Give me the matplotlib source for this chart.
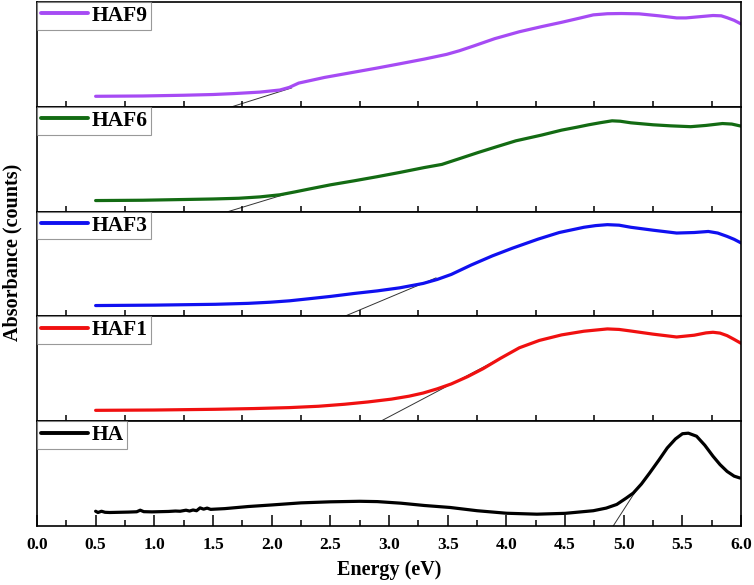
import matplotlib
matplotlib.use("Agg")
import matplotlib.pyplot as plt
from matplotlib.ticker import FixedLocator, NullFormatter

plt.rcParams['font.family'] = ['Liberation Serif', 'DejaVu Serif']
plt.rcParams['font.weight'] = 'bold'

# ---------------- data (normalised absorbance) ----------------
haf9_x = [0.50, 0.90, 1.25, 1.50, 1.68, 1.90, 2.07, 2.15, 2.23, 2.45, 2.70, 2.90, 3.09, 3.30, 3.49,
          3.60, 3.72, 3.90, 4.11, 4.30, 4.47, 4.62, 4.74, 4.86, 4.98, 5.13, 5.30, 5.45, 5.53, 5.65,
          5.76, 5.83, 5.88, 5.94, 6.00]
haf9_y = [0.100, 0.103, 0.110, 0.117, 0.126, 0.140, 0.160, 0.185, 0.226, 0.280, 0.330, 0.370, 0.410,
          0.455, 0.500, 0.535, 0.580, 0.650, 0.716, 0.765, 0.806, 0.845, 0.877, 0.888, 0.890, 0.887,
          0.868, 0.848, 0.848, 0.860, 0.871, 0.868, 0.850, 0.825, 0.790]

haf6_x = [0.50, 0.90, 1.25, 1.50, 1.72, 1.90, 2.07, 2.20, 2.31, 2.50, 2.70, 2.90, 3.09, 3.30, 3.45,
          3.60, 3.76, 3.92, 4.08, 4.30, 4.47, 4.60, 4.70, 4.80, 4.90, 4.97, 5.06, 5.25, 5.40, 5.57,
          5.70, 5.84, 5.92, 6.00]
haf6_y = [0.105, 0.108, 0.115, 0.120, 0.127, 0.140, 0.160, 0.188, 0.213, 0.255, 0.293, 0.333, 0.373,
          0.420, 0.450, 0.505, 0.564, 0.620, 0.675, 0.730, 0.777, 0.805, 0.828, 0.848, 0.866, 0.862,
          0.847, 0.828, 0.818, 0.810, 0.822, 0.840, 0.835, 0.815]

haf3_x = [0.50, 1.00, 1.52, 1.80, 1.99, 2.15, 2.31, 2.50, 2.70, 2.90, 3.09, 3.29, 3.41, 3.53, 3.70,
          3.88, 4.05, 4.27, 4.45, 4.66, 4.76, 4.86, 4.96, 5.06, 5.25, 5.45, 5.60, 5.72, 5.80, 5.88,
          5.94, 6.00]
haf3_y = [0.103, 0.107, 0.115, 0.124, 0.135, 0.148, 0.167, 0.190, 0.218, 0.243, 0.272, 0.314, 0.352,
          0.400, 0.490, 0.577, 0.650, 0.737, 0.800, 0.850, 0.866, 0.875, 0.870, 0.850, 0.822, 0.795,
          0.800, 0.810, 0.795, 0.763, 0.735, 0.700]

haf1_x = [0.50, 1.00, 1.52, 1.85, 2.15, 2.40, 2.62, 2.82, 3.02, 3.17, 3.29, 3.41, 3.53, 3.67, 3.80,
          3.95, 4.11, 4.28, 4.47, 4.66, 4.86, 4.96, 5.06, 5.25, 5.45, 5.60, 5.70, 5.76, 5.82, 5.88,
          5.94, 6.00]
haf1_y = [0.103, 0.106, 0.113, 0.120, 0.129, 0.142, 0.161, 0.183, 0.210, 0.238, 0.268, 0.308, 0.355,
          0.425, 0.500, 0.600, 0.700, 0.770, 0.823, 0.858, 0.880, 0.875, 0.860, 0.830, 0.803, 0.820,
          0.842, 0.848, 0.840, 0.816, 0.780, 0.742]

ha_x = [0.50, 0.52, 0.55, 0.58, 0.62, 0.70, 0.78, 0.85, 0.88, 0.91, 0.98, 1.05, 1.12, 1.18, 1.22,
        1.27, 1.30, 1.33, 1.36, 1.39, 1.42, 1.45, 1.48, 1.60, 1.80, 2.00, 2.25, 2.50, 2.75, 2.90,
        3.10, 3.30, 3.52, 3.75, 4.00, 4.26, 4.50, 4.74, 4.85, 4.94, 5.02, 5.08, 5.15, 5.22, 5.30,
        5.37, 5.44, 5.50, 5.55, 5.62, 5.69, 5.76, 5.82, 5.88, 5.94, 5.99]
ha_y = [0.140, 0.128, 0.140, 0.130, 0.128, 0.130, 0.132, 0.135, 0.150, 0.136, 0.134, 0.136, 0.138,
        0.142, 0.140, 0.150, 0.142, 0.152, 0.145, 0.172, 0.160, 0.170, 0.158, 0.165, 0.185, 0.200,
        0.220, 0.230, 0.235, 0.232, 0.217, 0.195, 0.176, 0.145, 0.121, 0.112, 0.120, 0.145, 0.170,
        0.205, 0.265, 0.313, 0.400, 0.505, 0.630, 0.744, 0.830, 0.880, 0.885, 0.856, 0.770, 0.665,
        0.585, 0.520, 0.475, 0.457]

# tangent (onset) lines: x-range and y at both ends
tan_x = {'HAF9': [1.66, 2.17], 'HAF6': [1.63, 2.10], 'HAF3': [2.62, 3.40],
         'HAF1': [2.93, 4.15], 'HA': [4.91, 5.12]}
tan_y = {'HAF9': [0.0, 0.180], 'HAF6': [0.0, 0.160], 'HAF3': [0.0, 0.367],
         'HAF1': [0.0, 0.720], 'HA': [0.0, 0.365]}

labels = ['HAF9', 'HAF6', 'HAF3', 'HAF1', 'HA']
colors = ['#a64bf4', '#136b13', '#1010f0', '#f01010', '#000000']
xs = [haf9_x, haf6_x, haf3_x, haf1_x, ha_x]
ys = [haf9_y, haf6_y, haf3_y, haf1_y, ha_y]

major_ticks = [0.0, 0.5, 1.0, 1.5, 2.0, 2.5, 3.0, 3.5, 4.0, 4.5, 5.0, 5.5, 6.0]
minor_ticks = [0.25, 0.75, 1.25, 1.75, 2.25, 2.75, 3.25, 3.75, 4.25, 4.75, 5.25, 5.75]

# ---------------- figure ----------------
fig = plt.figure(figsize=(7.54, 5.85), dpi=100)
gs = fig.add_gridspec(5, 1, left=0.049, right=0.983, bottom=0.101, top=0.9966, hspace=0)
axes = [fig.add_subplot(gs[i]) for i in range(5)]

for i, ax in enumerate(axes):
    lab = labels[i]
    ax.plot(tan_x[lab], tan_y[lab], color='#333333', lw=0.7, zorder=1)
    ax.plot(xs[i], ys[i], color=colors[i], lw=2.3, label=lab, zorder=2,
            solid_joinstyle='round', solid_capstyle='round')
    ax.set_xlim(0, 6)
    ax.set_ylim(0, 1)
    ax.set_yticks([])
    for s in ax.spines.values():
        s.set_linewidth(1.2)
        s.set_color('black')
    if i < 4:
        ax.xaxis.set_major_locator(FixedLocator([]))
        ax.xaxis.set_minor_locator(FixedLocator(minor_ticks))
        ax.tick_params(axis='x', which='minor', direction='in', length=4, width=1.1, bottom=True)
        ax.xaxis.set_major_formatter(NullFormatter())
    else:
        ax.xaxis.set_major_locator(FixedLocator(major_ticks))
        ax.xaxis.set_minor_locator(FixedLocator(minor_ticks))
        ax.tick_params(axis='x', which='major', direction='in', length=8, width=1.1,
                       labelsize=12.5, pad=8)
        ax.tick_params(axis='x', which='minor', direction='in', length=4, width=1.1)
        ax.set_xticklabels(['%.1f' % t for t in major_ticks], fontweight='bold')
        ax.set_xlabel('Energy (eV)', fontsize=14.5, fontweight='bold', labelpad=5)
    leg = ax.legend(loc='upper left', borderaxespad=0, frameon=True, fancybox=False,
                    handlelength=2.2, handletextpad=0.15, borderpad=0.18,
                    prop={'family': 'Liberation Serif', 'weight': 'bold', 'size': 15.5})
    leg.get_frame().set_edgecolor('#808080')
    leg.get_frame().set_linewidth(0.8)
    for h in leg.get_lines():
        h.set_linewidth(2.8)

fig.text(0.016, 0.568, 'Absorbance (counts)', rotation=90, fontsize=14.5, fontweight='bold',
         va='center', ha='center')

fig.savefig('out.png', dpi=100)
